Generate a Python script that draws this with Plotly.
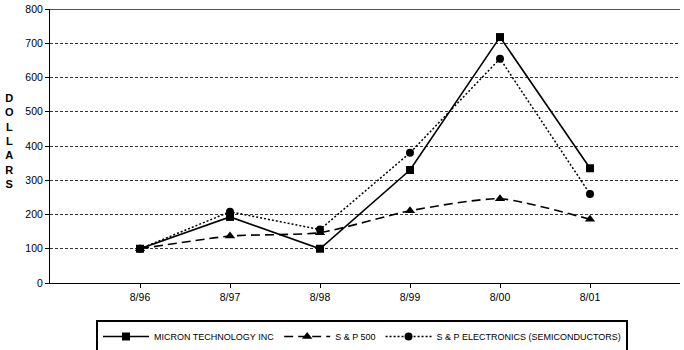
import plotly.graph_objects as go

periods = ["8/96", "8/97", "8/98", "8/99", "8/00", "8/01"]
micron = [100, 193, 100, 330, 718, 335]
sp500 = [100, 137, 147, 211, 246, 186]
sp_elec = [100, 208, 156, 380, 655, 260]
y_ticks = [0, 100, 200, 300, 400, 500, 600, 700, 800]

FONT = "Arial, Liberation Sans, sans-serif"

fig = go.Figure()
fig.add_trace(go.Scatter(
    x=periods, y=micron, name="MICRON TECHNOLOGY INC", mode="lines+markers",
    line=dict(color="black", width=1.6),
    marker=dict(symbol="square", size=8, color="black")))
fig.add_trace(go.Scatter(
    x=periods, y=sp500, name="S & P 500", mode="lines+markers",
    line=dict(color="black", width=1.6, dash="9px,5px", shape="spline", smoothing=0.6),
    marker=dict(symbol="triangle-up", size=9, color="black")))
fig.add_trace(go.Scatter(
    x=periods, y=sp_elec, name="S & P ELECTRONICS (SEMICONDUCTORS)", mode="lines+markers",
    line=dict(color="black", width=1.5, dash="2px,2px"),
    marker=dict(symbol="circle", size=8, color="black")))

fig.add_shape(type="line", xref="x domain", yref="y", x0=0, x1=1, y0=800, y1=800,
              line=dict(color="#555555", width=2))

fig.add_annotation(text="D<br>O<br>L<br>L<br>A<br>R<br>S", xref="paper", yref="paper",
                   x=-0.065, y=0.52, xanchor="center", yanchor="middle", showarrow=False,
                   font=dict(family=FONT, size=11, color="black", weight="bold"))

fig.update_layout(
    width=684, height=350,
    margin=dict(l=50, r=4, t=9, b=67, autoexpand=False),
    plot_bgcolor="white", paper_bgcolor="white",
    font=dict(family=FONT, size=10, color="black"),
    showlegend=True,
    legend=dict(orientation="h", xref="container", yref="container",
                x=96 / 684, y=1 - 320 / 350, xanchor="left", yanchor="top",
                bordercolor="black", borderwidth=2, font=dict(size=9, family=FONT),
                itemwidth=46, tracegroupgap=0, bgcolor="white"),
    xaxis=dict(type="category", categoryorder="array", categoryarray=periods,
               range=[-1, 6], showgrid=False, showline=True, linecolor="black", linewidth=1,
               ticks="outside", ticklen=4, tickcolor="black", zeroline=False,
               tickfont=dict(size=10.5)),
    yaxis=dict(range=[0, 800], tickvals=y_ticks, showgrid=True, gridcolor="#333333",
               griddash="3px,2px", gridwidth=1, showline=True, linecolor="black",
               linewidth=1, ticks="outside", ticklen=4, tickcolor="black",
               zeroline=False, tickfont=dict(size=10.5)),
)

fig.write_html("out.html")
